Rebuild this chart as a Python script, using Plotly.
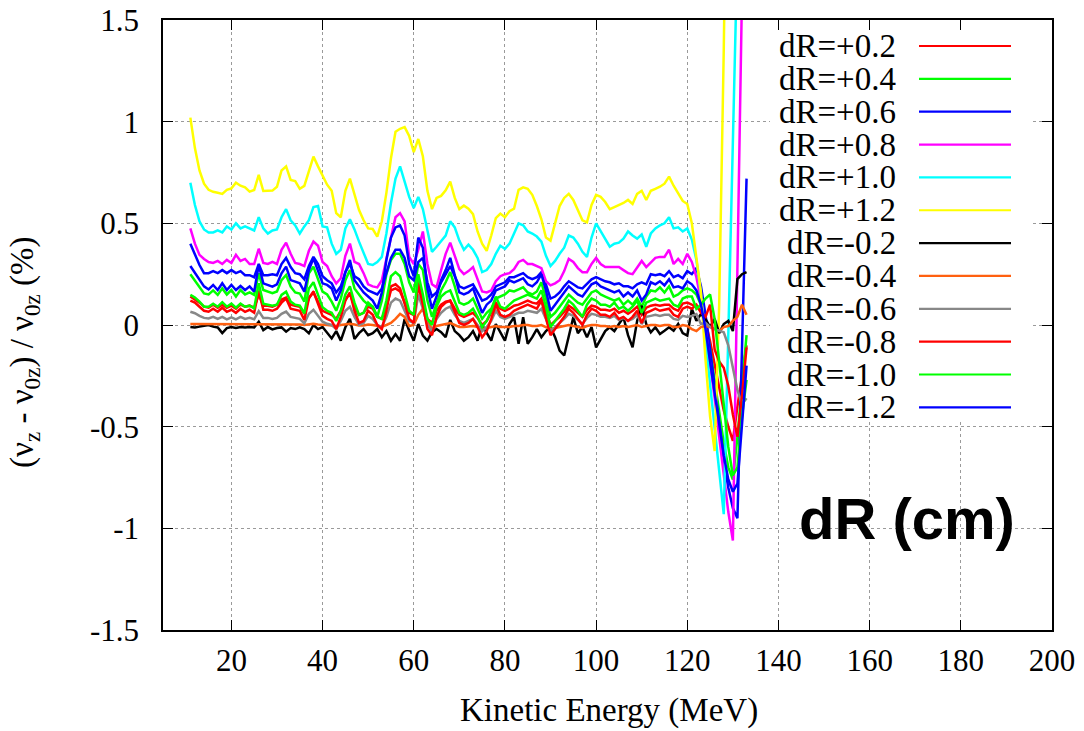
import plotly.graph_objects as go

# Kinetic energy grid (MeV)
energy = list(range(11, 134))

dR_p02 = [0.14, 0.125, 0.11, 0.09, 0.085, 0.10, 0.085, 0.10, 0.085, 0.095,
          0.08, 0.10, 0.09, 0.095, 0.085, 0.15, 0.095, 0.095, 0.09, 0.10,
          0.125, 0.135, 0.10, 0.095, 0.09, 0.055, 0.135, 0.16, 0.115, 0.07,
          0.06, 0.05, 0.03, 0.07, 0.125, 0.155, 0.09, 0.05, 0.06, 0.09,
          0.08, 0.04, 0.03, 0.09, 0.17, 0.18, 0.165, 0.11, 0.06, 0.05,
          0.19, 0.11, 0.03, 0.01, 0.07, 0.10, 0.115, 0.12, 0.08, 0.05,
          0.04, 0.05, 0.06, 0.035, 0.00, 0.02, 0.06, 0.11, 0.08, 0.07,
          0.08, 0.095, 0.10, 0.11, 0.12, 0.11, 0.105, 0.13, 0.07, 0.00,
          0.02, 0.04, 0.065, 0.095, 0.08, 0.06, 0.04, 0.075, 0.095, 0.09,
          0.075, 0.075, 0.07, 0.08, 0.06, 0.07, 0.055, 0.07, 0.09, 0.05,
          0.085, 0.095, 0.10, 0.095, 0.10, 0.10, 0.08, 0.07, 0.105, 0.11,
          0.10, 0.09, 0.07, 0.02, -0.08, -0.20, -0.32, -0.42, -0.50, -0.57,
          -0.40, -0.25, -0.10]

dR_p04 = [0.25, 0.22, 0.19, 0.155, 0.15, 0.17, 0.148, 0.18, 0.15, 0.172,
          0.14, 0.172, 0.15, 0.16, 0.148, 0.254, 0.172, 0.165, 0.156, 0.165,
          0.221, 0.246, 0.189, 0.16, 0.155, 0.115, 0.254, 0.287, 0.226, 0.164,
          0.15, 0.115, 0.07, 0.13, 0.22, 0.27, 0.18, 0.15, 0.12, 0.10,
          0.09, 0.04, 0.12, 0.25, 0.32, 0.35, 0.35, 0.30, 0.21, 0.16,
          0.30, 0.27, 0.12, 0.04, 0.10, 0.17, 0.21, 0.26, 0.19, 0.11,
          0.10, 0.11, 0.13, 0.08, 0.03, 0.06, 0.08, 0.13, 0.14, 0.15,
          0.17, 0.165, 0.175, 0.185, 0.16, 0.15, 0.165, 0.21, 0.13, 0.04,
          0.06, 0.09, 0.12, 0.15, 0.13, 0.11, 0.10, 0.13, 0.16, 0.17,
          0.15, 0.14, 0.13, 0.12, 0.13, 0.10, 0.12, 0.10, 0.13, 0.09,
          0.14, 0.17, 0.165, 0.185, 0.16, 0.19, 0.14, 0.15, 0.17, 0.18,
          0.17, 0.15, 0.10, 0.02, -0.12, -0.28, -0.44, -0.58, -0.70, -0.76,
          -0.55, -0.30, -0.05]

dR_p06 = [0.40, 0.345, 0.295, 0.255, 0.255, 0.265, 0.255, 0.27, 0.255, 0.27,
          0.255, 0.265, 0.245, 0.245, 0.235, 0.30, 0.245, 0.245, 0.25, 0.245,
          0.30, 0.33, 0.285, 0.255, 0.25, 0.225, 0.29, 0.335, 0.30, 0.24,
          0.22, 0.205, 0.16, 0.19, 0.26, 0.30, 0.24, 0.225, 0.19, 0.17,
          0.16, 0.15, 0.18, 0.26, 0.33, 0.37, 0.37, 0.33, 0.24, 0.22,
          0.31, 0.33, 0.21, 0.14, 0.16, 0.21, 0.25, 0.29, 0.24, 0.19,
          0.18, 0.19, 0.20, 0.16, 0.12, 0.13, 0.15, 0.19, 0.20, 0.21,
          0.235, 0.235, 0.245, 0.255, 0.235, 0.225, 0.235, 0.26, 0.20, 0.13,
          0.14, 0.16, 0.19, 0.215, 0.20, 0.185, 0.18, 0.20, 0.225, 0.235,
          0.225, 0.215, 0.21, 0.20, 0.205, 0.19, 0.19, 0.18, 0.20, 0.21,
          0.20, 0.25, 0.245, 0.25, 0.24, 0.265, 0.235, 0.245, 0.23, 0.265,
          0.25, 0.28, 0.19, 0.05, -0.12, -0.30, -0.48, -0.66, -0.80, -0.90,
          -0.95, -0.15, 0.72]

dR_p08 = [0.475, 0.40, 0.345, 0.325, 0.31, 0.305, 0.315, 0.30, 0.32, 0.305,
          0.345, 0.315, 0.325, 0.30, 0.30, 0.375, 0.305, 0.30, 0.31, 0.30,
          0.37, 0.405, 0.35, 0.305, 0.30, 0.29, 0.365, 0.41, 0.39, 0.31,
          0.29, 0.24, 0.205, 0.23, 0.34, 0.40, 0.31, 0.30, 0.255, 0.20,
          0.19, 0.185, 0.22, 0.33, 0.43, 0.53, 0.55, 0.51, 0.335, 0.30,
          0.37, 0.46, 0.30, 0.20, 0.185, 0.27, 0.35, 0.405, 0.345, 0.275,
          0.25, 0.265, 0.285, 0.22, 0.165, 0.16, 0.17, 0.215, 0.24, 0.25,
          0.255, 0.275, 0.31, 0.32, 0.30, 0.30, 0.29, 0.28, 0.215, 0.195,
          0.205, 0.22, 0.265, 0.325, 0.31, 0.28, 0.26, 0.26, 0.30, 0.33,
          0.30, 0.285, 0.285, 0.285, 0.285, 0.27, 0.255, 0.25, 0.28, 0.315,
          0.285, 0.31, 0.33, 0.335, 0.335, 0.37, 0.30, 0.325, 0.30, 0.35,
          0.31, 0.235, 0.12, -0.02, -0.18, -0.36, -0.55, -0.74, -0.92, -1.06,
          0.35, 1.63, 2.90]

dR_p10 = [0.70, 0.59, 0.51, 0.47, 0.455, 0.455, 0.465, 0.455, 0.485, 0.47,
          0.50, 0.475, 0.485, 0.475, 0.465, 0.53, 0.475, 0.45, 0.465, 0.47,
          0.53, 0.57, 0.515, 0.49, 0.45, 0.485, 0.515, 0.58, 0.585, 0.485,
          0.48, 0.40, 0.35, 0.37, 0.475, 0.52, 0.47, 0.41, 0.355, 0.30,
          0.295, 0.31, 0.335, 0.45, 0.60, 0.72, 0.78, 0.71, 0.63, 0.575,
          0.63, 0.57, 0.46, 0.36, 0.385, 0.41, 0.44, 0.51, 0.48, 0.415,
          0.37, 0.395, 0.37, 0.33, 0.26, 0.27, 0.30, 0.35, 0.39, 0.375,
          0.40, 0.45, 0.50, 0.49, 0.46, 0.45, 0.435, 0.41, 0.34, 0.29,
          0.315, 0.35, 0.38, 0.44, 0.43, 0.40, 0.36, 0.335, 0.43, 0.50,
          0.46, 0.425, 0.385, 0.40, 0.405, 0.425, 0.46, 0.44, 0.425, 0.445,
          0.385, 0.45, 0.475, 0.49, 0.50, 0.53, 0.475, 0.48, 0.46, 0.475,
          0.42, 0.32, 0.15, -0.08, -0.30, -0.52, -0.73, -0.93, -0.05, 0.85,
          1.85, 2.85, 3.85]

dR_p12 = [1.02, 0.87, 0.76, 0.695, 0.665, 0.655, 0.65, 0.645, 0.665, 0.672,
          0.70, 0.685, 0.677, 0.656, 0.664, 0.738, 0.659, 0.66, 0.661, 0.68,
          0.76, 0.78, 0.713, 0.708, 0.67, 0.684, 0.76, 0.828, 0.78, 0.733,
          0.69, 0.66, 0.55, 0.53, 0.66, 0.72, 0.645, 0.565, 0.515, 0.475,
          0.472, 0.435, 0.51, 0.65, 0.82, 0.95, 0.965, 0.973, 0.93, 0.85,
          0.915, 0.83, 0.66, 0.57, 0.625, 0.635, 0.662, 0.705, 0.625, 0.57,
          0.587, 0.572, 0.545, 0.46, 0.40, 0.365, 0.44, 0.525, 0.548, 0.53,
          0.56, 0.572, 0.665, 0.677, 0.67, 0.64, 0.585, 0.52, 0.43, 0.415,
          0.50, 0.585, 0.625, 0.645, 0.615, 0.565, 0.515, 0.505, 0.59, 0.64,
          0.63, 0.605, 0.57, 0.58, 0.59, 0.60, 0.615, 0.595, 0.645, 0.66,
          0.615, 0.66, 0.67, 0.68, 0.695, 0.73, 0.685, 0.645, 0.61, 0.595,
          0.50, 0.33, 0.16, -0.17, -0.45, -0.62, 0.10, 1.35, 3.00, 4.60,
          6.20, 7.80, 9.40]

dR_m02 = [-0.01, -0.012, -0.008, -0.005, 0.0, -0.008, -0.012, -0.04, -0.015, -0.01,
          -0.015, -0.01, -0.012, -0.01, -0.012, 0.016, -0.025, -0.01, -0.022, -0.015,
          -0.012, -0.033, -0.015, -0.02, -0.012, -0.02, -0.041, 0.0, -0.02, -0.01,
          -0.04, -0.066, -0.03, -0.077, -0.011, 0.03, -0.069, -0.04, -0.02, -0.05,
          -0.04, -0.02, -0.06, -0.03, -0.077, -0.045, -0.077, 0.03, -0.028, -0.077,
          0.005, -0.052, -0.077, -0.035, -0.02, -0.035, -0.06, 0.025, -0.03, -0.05,
          -0.077, -0.06, -0.03, -0.077, 0.0, -0.04, -0.077, 0.005, -0.04, -0.077,
          0.005, 0.038, -0.093, 0.038, -0.093, -0.06, -0.02, -0.06, -0.03, -0.01,
          -0.06, -0.126, -0.15, -0.06, 0.038, -0.04, -0.011, -0.06, -0.01, -0.11,
          -0.07, -0.03, -0.011, -0.03, 0.005, 0.038, -0.05, -0.11, 0.02, 0.095,
          0.005, -0.036, -0.011, -0.044, -0.028, -0.011, -0.028, 0.005, -0.04, -0.052,
          0.079, 0.021, 0.054, 0.03, -0.01, 0.03, -0.04, 0.005, 0.02, -0.03,
          0.226, 0.25, 0.26]

dR_m04 = [0.005, 0.005, 0.003, 0.003, 0.003, 0.003, 0.003, 0.005, 0.003, 0.003,
          0.003, 0.005, 0.003, 0.003, 0.003, 0.006, 0.003, 0.003, 0.003, 0.004,
          0.005, 0.006, 0.004, 0.003, 0.003, 0.0, 0.004, 0.006, 0.003, 0.0,
          0.0, -0.002, -0.005, 0.0, 0.004, 0.006, 0.002, -0.003, -0.002, 0.002,
          0.0, -0.005, -0.008, 0.0, 0.01, 0.03, 0.055, 0.04, -0.005, 0.0,
          0.05, 0.08, 0.02, -0.02, -0.005, 0.0, 0.005, 0.01, 0.0, -0.01,
          -0.01, -0.008, -0.005, -0.01, -0.02, -0.015, -0.01, -0.005, -0.01, -0.01,
          -0.01, -0.005, -0.005, 0.0, 0.0, -0.005, -0.005, 0.0, -0.01, -0.02,
          -0.015, -0.01, -0.005, 0.0, -0.005, -0.01, -0.015, -0.005, 0.0, 0.0,
          -0.005, -0.005, -0.01, -0.005, -0.01, -0.005, -0.01, -0.005, 0.0, -0.01,
          -0.005, 0.0, 0.0, -0.005, 0.0, 0.0, -0.01, -0.01, 0.0, -0.005,
          -0.02, -0.03, -0.01, -0.005, -0.01, -0.02, -0.03, -0.01, -0.005, 0.02,
          0.04, 0.10, 0.05]

dR_m06 = [0.065, 0.058, 0.045, 0.035, 0.032, 0.04, 0.03, 0.04, 0.028, 0.038,
          0.028, 0.04, 0.03, 0.035, 0.028, 0.068, 0.035, 0.035, 0.03, 0.035,
          0.055, 0.066, 0.04, 0.035, 0.03, 0.008, 0.055, 0.075, 0.045, 0.016,
          0.006, 0.0, -0.02, 0.02, 0.07, 0.09, 0.04, 0.0, 0.01, 0.045,
          0.03, 0.0, -0.01, 0.04, 0.11, 0.13, 0.12, 0.07, 0.02, 0.01,
          0.15, 0.08, 0.0, -0.03, 0.03, 0.06, 0.08, 0.09, 0.05, 0.02,
          0.01, 0.02, 0.03, 0.0, -0.03, -0.01, 0.02, 0.07, 0.04, 0.03,
          0.04, 0.05, 0.06, 0.06, 0.07, 0.065, 0.06, 0.08, 0.03, -0.03,
          -0.01, 0.01, 0.03, 0.055, 0.045, 0.025, 0.005, 0.035, 0.055, 0.05,
          0.04, 0.04, 0.035, 0.045, 0.025, 0.035, 0.02, 0.03, 0.05, 0.005,
          0.04, 0.045, 0.05, 0.045, 0.05, 0.05, 0.03, 0.025, 0.045, 0.04,
          0.045, 0.054, 0.005, 0.01, -0.01, -0.02, -0.03, -0.036, -0.10, -0.22,
          -0.32, -0.39, -0.36]

dR_m08 = [0.12, 0.11, 0.09, 0.07, 0.065, 0.08, 0.065, 0.085, 0.065, 0.075,
          0.06, 0.08, 0.065, 0.075, 0.06, 0.17, 0.075, 0.075, 0.07, 0.08,
          0.11, 0.13, 0.08, 0.075, 0.07, 0.025, 0.13, 0.165, 0.10, 0.045,
          0.03, 0.02, -0.02, 0.04, 0.12, 0.16, 0.07, 0.01, 0.02, 0.07,
          0.05, 0.00, -0.02, 0.07, 0.19, 0.20, 0.18, 0.10, 0.03, 0.01,
          0.21, 0.10, -0.02, -0.05, 0.04, 0.09, 0.11, 0.12, 0.06, 0.01,
          0.00, 0.01, 0.03, -0.01, -0.06, -0.03, 0.03, 0.10, 0.05, 0.04,
          0.05, 0.07, 0.08, 0.09, 0.10, 0.09, 0.08, 0.12, 0.04, -0.05,
          -0.02, 0.01, 0.04, 0.08, 0.06, 0.03, 0.00, 0.05, 0.08, 0.07,
          0.05, 0.05, 0.04, 0.06, 0.03, 0.04, 0.02, 0.04, 0.07, 0.01,
          0.06, 0.07, 0.08, 0.07, 0.075, 0.08, 0.05, 0.04, 0.08, 0.09,
          0.08, 0.10, 0.06, 0.04, 0.10, -0.12, -0.18, -0.21, -0.30, -0.44,
          -0.55, -0.35, -0.11]

dR_m10 = [0.148, 0.135, 0.115, 0.09, 0.09, 0.105, 0.09, 0.112, 0.09, 0.105,
          0.085, 0.105, 0.09, 0.095, 0.082, 0.205, 0.105, 0.10, 0.095, 0.10,
          0.148, 0.164, 0.115, 0.10, 0.095, 0.057, 0.18, 0.21, 0.152, 0.087,
          0.07, 0.06, 0.02, 0.07, 0.15, 0.19, 0.11, 0.05, 0.06, 0.11,
          0.09, 0.04, 0.03, 0.12, 0.24, 0.26, 0.24, 0.15, 0.07, 0.05,
          0.25, 0.15, 0.03, 0.00, 0.09, 0.14, 0.16, 0.17, 0.11, 0.06,
          0.05, 0.06, 0.08, 0.04, -0.01, 0.02, 0.07, 0.14, 0.09, 0.08,
          0.10, 0.12, 0.13, 0.14, 0.15, 0.14, 0.13, 0.17, 0.09, -0.01,
          0.02, 0.05, 0.08, 0.12, 0.10, 0.07, 0.04, 0.10, 0.13, 0.12,
          0.10, 0.10, 0.09, 0.11, 0.08, 0.09, 0.07, 0.09, 0.12, 0.06,
          0.11, 0.12, 0.13, 0.12, 0.125, 0.13, 0.10, 0.09, 0.13, 0.14,
          0.14, 0.08, 0.10, 0.13, 0.15, 0.03, -0.18, -0.40, -0.60, -0.74,
          -0.70, -0.45, -0.27]

dR_m12 = [0.29, 0.255, 0.22, 0.19, 0.175, 0.197, 0.172, 0.205, 0.172, 0.197,
          0.172, 0.192, 0.172, 0.19, 0.164, 0.295, 0.205, 0.197, 0.189, 0.20,
          0.254, 0.287, 0.221, 0.213, 0.205, 0.164, 0.27, 0.328, 0.27, 0.205,
          0.197, 0.18, 0.12, 0.17, 0.26, 0.32, 0.22, 0.19, 0.16, 0.14,
          0.12, 0.08, 0.16, 0.32, 0.43, 0.48, 0.49, 0.44, 0.30, 0.24,
          0.43, 0.38, 0.18, 0.08, 0.14, 0.22, 0.27, 0.33, 0.25, 0.16,
          0.15, 0.16, 0.18, 0.12, 0.06, 0.10, 0.12, 0.17, 0.18, 0.19,
          0.22, 0.21, 0.22, 0.23, 0.20, 0.19, 0.21, 0.25, 0.17, 0.07,
          0.10, 0.13, 0.16, 0.19, 0.17, 0.15, 0.14, 0.17, 0.20, 0.21,
          0.19, 0.18, 0.17, 0.16, 0.17, 0.14, 0.16, 0.14, 0.17, 0.12,
          0.15, 0.21, 0.20, 0.215, 0.195, 0.225, 0.185, 0.19, 0.18, 0.215,
          0.20, 0.17, 0.10, -0.02, -0.18, -0.34, -0.50, -0.64, -0.76, -0.82,
          -0.78, -0.50, -0.20]

series_names = ["dR=+0.2", "dR=+0.4", "dR=+0.6", "dR=+0.8", "dR=+1.0", "dR=+1.2",
                "dR=-0.2", "dR=-0.4", "dR=-0.6", "dR=-0.8", "dR=-1.0", "dR=-1.2"]
series_values = [dR_p02, dR_p04, dR_p06, dR_p08, dR_p10, dR_p12,
                 dR_m02, dR_m04, dR_m06, dR_m08, dR_m10, dR_m12]
series_colors = ["#ff0000", "#00ff00", "#0000ff", "#ff00ff", "#00ffff", "#ffff00",
                 "#000000", "#ff6010", "#888888", "#ff0000", "#00ff00", "#0000ff"]

x_ticks = [20, 40, 60, 80, 100, 120, 140, 160, 180, 200]
y_ticks = [-1.5, -1, -0.5, 0, 0.5, 1, 1.5]
y_ticklabels = ["-1.5", "-1", "-0.5", "0", "0.5", "1", "1.5"]

for n, v in zip(series_names, series_values):
    assert len(v) == len(energy), (n, len(v))

# plot-area geometry in pixels (for placing the key)
W, H = 1084, 731
L, R, T, B = 163, 1052, 20, 630


def px(xp):
    return (xp - L) / (R - L)


def py(yp):
    return (B - yp) / (B - T)


SERIF = "Liberation Serif"

fig = go.Figure()
for n, v, c in zip(series_names, series_values, series_colors):
    fig.add_trace(go.Scatter(x=energy, y=v, mode="lines", name=n,
                             line=dict(color=c, width=2.5), showlegend=False))

shapes = [dict(type="rect", xref="paper", yref="paper",
               x0=px(770), x1=px(1030), y0=py(421), y1=py(31),
               fillcolor="white", line=dict(width=0), layer="above")]
annotations = []
row0, dy = 46, 32.85
for i, (n, c) in enumerate(zip(series_names, series_colors)):
    yy = row0 + i * dy
    shapes.append(dict(type="line", xref="paper", yref="paper",
                       x0=px(919), x1=px(1011), y0=py(yy), y1=py(yy),
                       line=dict(color=c, width=2.2), layer="above"))
    annotations.append(dict(text=n, xref="paper", yref="paper", x=px(898), y=py(yy),
                            xanchor="right", yanchor="middle", showarrow=False,
                            font=dict(family=SERIF, size=33, color="black")))

annotations.append(dict(text="<b>dR (cm)</b>", xref="paper", yref="paper",
                        x=px(907), y=py(518), xanchor="center", yanchor="middle",
                        showarrow=False,
                        font=dict(family="Liberation Sans", size=58, color="black")))
annotations.append(dict(text="Kinetic Energy (MeV)", xref="paper", yref="paper",
                        x=px(609), y=py(711), xanchor="center", yanchor="middle",
                        showarrow=False, font=dict(family=SERIF, size=33, color="black")))
annotations.append(dict(text="(\u03bd<sub>z</sub> - \u03bd<sub>0z</sub>) / \u03bd<sub>0z</sub> (%)",
                        xref="paper", yref="paper", x=px(24), y=py(352),
                        xanchor="center", yanchor="middle", textangle=-90,
                        showarrow=False, font=dict(family=SERIF, size=33, color="black")))

axis_common = dict(showline=True, linecolor="black", linewidth=1.5, mirror="ticks",
                   ticks="inside", ticklen=10, tickwidth=1.2, tickcolor="black",
                   showgrid=True, gridcolor="#9a9a9a", griddash="dot", gridwidth=1,
                   zeroline=False, tickfont=dict(family=SERIF, size=31, color="black"),
                   automargin=False)

fig.update_layout(
    width=W, height=H, autosize=False,
    margin=dict(l=L, r=W - R, t=T, b=H - B, autoexpand=False),
    paper_bgcolor="white", plot_bgcolor="white",
    xaxis=dict(range=[5, 200], tickvals=x_ticks, ticktext=[str(t) for t in x_ticks],
               ticklabelstandoff=2, **axis_common),
    yaxis=dict(range=[-1.5, 1.5], tickvals=y_ticks, ticktext=y_ticklabels,
               ticklabelstandoff=16, **axis_common),
    shapes=shapes, annotations=annotations, showlegend=False,
)

fig.write_html("out.html", config={"displayModeBar": False},
               post_script="document.body.style.margin='0px';"
                           "document.body.style.overflow='hidden';")
